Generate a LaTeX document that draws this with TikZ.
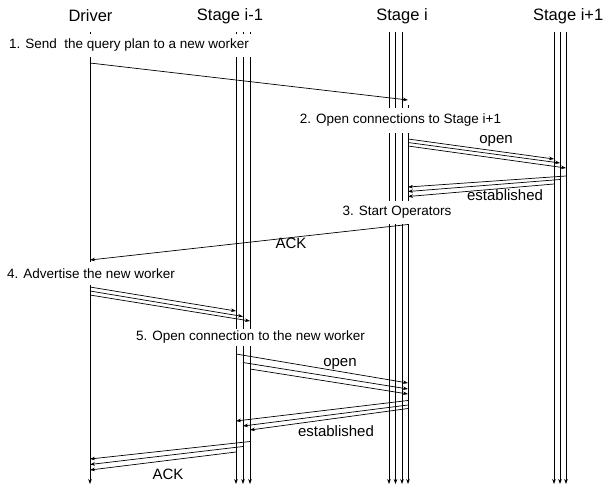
\documentclass[tikz,border=0pt]{standalone}
\usepackage{fontspec}
\setmainfont{Liberation Sans}
\usetikzlibrary{arrows.meta}

\begin{document}
\begin{tikzpicture}[x=1pt, y=-1pt, >={Stealth[length=5pt, width=3.6pt]}, line width=0.7pt,
    title/.style={font=\fontsize{16.5}{18}\selectfont},
    stepnote/.style={fill=white, inner sep=2pt, minimum height=23pt, font=\fontsize{13.5}{15}\selectfont},
    msglabel/.style={font=\fontsize{15}{17}\selectfont},
    life/.style={->},
    msg/.style={->}]

    \useasboundingbox (0,0) rectangle (608,488);

    % Column titles
    \node[title] (tdrv) at (90.5, 16) {Driver};
    \node[title] (tprev) at (230, 16) {Stage i-1};
    \node[title] (tcur) at (402, 16) {Stage i};
    \node[title, anchor=east] (tnext) at (607, 16) {Stage i+1};

    % Lifelines (nw = the new worker of stage i)
    \foreach \n/\x/\t in {drv/90/32, pa/236/32, pb/243/32, pc/250/32,
                          ca/389/32, cb/395.5/32, cc/402/32, nw/408/105,
                          qa/554/32, qb/560/32, qc/566/32} {
        \coordinate (\n) at (\x, \t);
        \coordinate (\n-end) at (\x, 484);
        \draw[life] (\n) -- (\n-end);
    }

    % Step notes, white boxes cut the lifelines
    \node[stepnote, inner xsep=3.5pt] (s1) at (129, 45.5) {1. Send\ \ the query plan to a new worker};
    \node[stepnote, minimum height=25pt] (s2) at (400.5, 120.5) {2. Open connections to Stage i+1};
    \node[stepnote] (s3) at (397, 212.5) {3. Start Operators};
    \node[stepnote] (s4) at (91, 273.5) {4. Advertise the new worker};
    \node[stepnote, minimum height=17pt] (s5) at (250.5, 337.5) {5. Open connection to the new worker};

    % 1. query plan
    \draw[msg] (drv |- 0,63) -- (nw |- 0,100);

    % 2. open / established with stage i+1
    \foreach \a/\ya/\b/\yb in {nw/139/qa/159, nw/142.5/qb/163, nw/146/qc/168,
                               qc/176/nw/187, qb/179.5/nw/191.5, qa/184/nw/196.5}
        \draw[msg] (\a |- 0,\ya) -- (\b |- 0,\yb);
    \node[msglabel] (lopen1) at (496, 141) {open};
    \node[msglabel] (lest1) at (505, 195) {established};

    % 3. ACK to the driver
    \draw[msg] (nw |- 0,224.5) -- (drv |- 0,260);
    \node[msglabel] (lack1) at (291, 243) {ACK};

    % 4. advertise to stage i-1
    \foreach \a/\ya/\b/\yb in {drv/287/pa/311, drv/291/pb/316.5, drv/295/pc/321}
        \draw[msg] (\a |- 0,\ya) -- (\b |- 0,\yb);

    % 5. open / established / ACK
    \foreach \a/\ya/\b/\yb in {pa/354/nw/383, pb/362.5/nw/389, pc/369/nw/394,
                               nw/400.5/pa/421, nw/405/pb/426, nw/408.5/pc/430,
                               pc/441.5/drv/459, pb/446.5/drv/464.5, pa/452/drv/470}
        \draw[msg] (\a |- 0,\ya) -- (\b |- 0,\yb);
    \node[msglabel] (lopen2) at (340, 364) {open};
    \node[msglabel] (lest2) at (336, 431) {established};
    \node[msglabel] (lack2) at (168, 474) {ACK};

\end{tikzpicture}
\end{document}
